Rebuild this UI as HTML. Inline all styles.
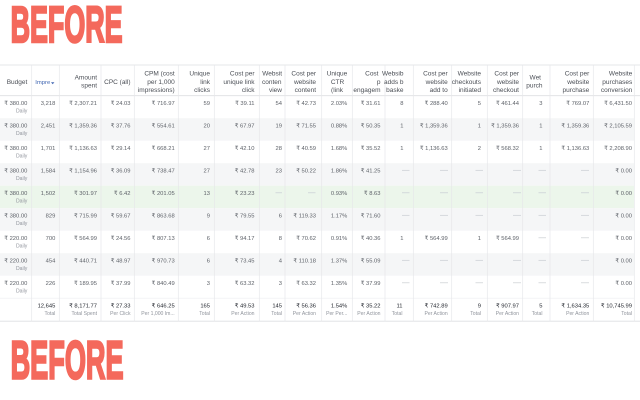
<!DOCTYPE html>
<html>
<head>
<meta charset="utf-8">
<style>
html,body{margin:0;padding:0;background:#fff;width:640px;height:400px;overflow:hidden;}
svg{display:block;}
svg text{font-family:"Liberation Sans","DejaVu Sans",sans-serif;}
.h{font-size:6.5px;fill:#4b4f56;text-anchor:end;}
.hc{font-size:6.5px;fill:#4b4f56;text-anchor:middle;}
.d{font-size:5.8px;fill:#5d6168;text-anchor:end;}
.s{font-size:5.1px;fill:#90949c;text-anchor:end;}
.f{font-size:5.8px;fill:#1d2129;text-anchor:end;}
.big{font-weight:bold;fill:#f4695c;stroke:#f4695c;stroke-width:2.5;stroke-linejoin:miter;}
.dash{stroke:#c9cdd2;stroke-width:0.7;}
</style>
</head>
<body>
<svg width="640" height="400" viewBox="0 0 640 400" xmlns="http://www.w3.org/2000/svg">
<rect x="0" y="0" width="640" height="400" fill="#fff"/>

<!-- BEFORE headings -->
<text class="big" x="10.6" y="42" font-size="51" textLength="112" lengthAdjust="spacingAndGlyphs">BEFORE</text>
<text class="big" x="10.6" y="378.7" font-size="53.5" textLength="113" lengthAdjust="spacingAndGlyphs">BEFORE</text>

<!-- row backgrounds -->
<rect x="0" y="118.2" width="634.3" height="22.5" fill="#f5f6f7"/>
<rect x="0" y="163.2" width="634.3" height="22.5" fill="#f5f6f7"/>
<rect x="0" y="185.7" width="634.3" height="22.5" fill="#ecf6eb"/>
<rect x="0" y="208.2" width="634.3" height="22.5" fill="#f5f6f7"/>
<rect x="0" y="253.2" width="634.3" height="22.5" fill="#f5f6f7"/>

<!-- horizontal lines -->
<line x1="0" y1="65" x2="640" y2="65" stroke="#dddfe2" stroke-width="0.8"/>
<line x1="0" y1="95.7" x2="640" y2="95.7" stroke="#dddfe2" stroke-width="0.8"/>
<line x1="0" y1="298.2" x2="634.3" y2="298.2" stroke="#eceef0" stroke-width="0.6"/>
<line x1="0" y1="321.2" x2="640" y2="321.2" stroke="#dddfe2" stroke-width="0.8"/>

<!-- vertical lines -->
<g stroke="#e6e7ea" stroke-width="0.7">
<line x1="31.7" y1="65" x2="31.7" y2="321.2"/>
<line x1="59.3" y1="65" x2="59.3" y2="321.2"/>
<line x1="101" y1="65" x2="101" y2="321.2"/>
<line x1="134.3" y1="65" x2="134.3" y2="321.2"/>
<line x1="178.3" y1="65" x2="178.3" y2="321.2"/>
<line x1="214.3" y1="65" x2="214.3" y2="321.2"/>
<line x1="259.3" y1="65" x2="259.3" y2="321.2"/>
<line x1="285" y1="65" x2="285" y2="321.2"/>
<line x1="321.7" y1="65" x2="321.7" y2="321.2"/>
<line x1="352.3" y1="65" x2="352.3" y2="321.2"/>
<line x1="385" y1="65" x2="385" y2="321.2"/>
<line x1="413.3" y1="65" x2="413.3" y2="321.2"/>
<line x1="451.7" y1="65" x2="451.7" y2="321.2"/>
<line x1="487.3" y1="65" x2="487.3" y2="321.2"/>
<line x1="522.7" y1="65" x2="522.7" y2="321.2"/>
<line x1="550" y1="65" x2="550" y2="321.2"/>
<line x1="593.3" y1="65" x2="593.3" y2="321.2"/>
<line x1="634.3" y1="65" x2="634.3" y2="321.2"/>
</g>

<!-- header -->
<text class="h" x="27.3" y="84">Budget</text>
<text x="35.2" y="84" font-size="5.9" fill="#4267b2">Impre</text>
<polygon points="51,82.3 54.4,82.3 52.7,84.3" fill="#4267b2"/>
<text class="h" x="97" y="79.5">Amount</text><text class="h" x="97" y="87.5">spent</text>
<text class="h" x="130.5" y="84">CPC (all)</text>
<text class="h" x="174.7" y="75.6">CPM (cost</text><text class="h" x="174.7" y="83.8">per 1,000</text><text class="h" x="174.7" y="92">impressions)</text>
<text class="h" x="210" y="75.6">Unique</text><text class="h" x="210" y="83.8">link</text><text class="h" x="210" y="92">clicks</text>
<text class="h" x="254.5" y="75.6">Cost per</text><text class="h" x="254.5" y="83.8">unique link</text><text class="h" x="254.5" y="92">click</text>
<text class="h" x="282" y="75.6">Websit</text><text class="h" x="281.5" y="83.8">conten</text><text class="h" x="282" y="92">view</text>
<text class="h" x="316" y="75.6">Cost per</text><text class="h" x="316" y="83.8">website</text><text class="h" x="316" y="92">content</text>
<text class="hc" x="337" y="75.6">Unique</text><text class="hc" x="337.5" y="83.8">CTR</text><text class="hc" x="337" y="92">(link</text>
<text class="h" x="378.5" y="75.6">Cost</text><text class="h" x="380.5" y="83.8">p</text><text class="h" x="380.5" y="92">engagem</text>
<text class="h" x="403.5" y="75.6">Websib</text><text class="h" x="403.5" y="83.8">adds b</text><text class="h" x="403.5" y="92">baske</text>
<text class="h" x="447.7" y="75.6">Cost per</text><text class="h" x="447.7" y="83.8">website</text><text class="h" x="447.7" y="92">add to</text>
<text class="h" x="481" y="75.6">Website</text><text class="h" x="481" y="83.8">checkouts</text><text class="h" x="481" y="92">initiated</text>
<text class="h" x="519" y="75.6">Cost per</text><text class="h" x="519" y="83.8">website</text><text class="h" x="519" y="92">checkout</text>
<text class="h" x="541" y="79.5">Wet</text><text class="h" x="542.5" y="87.5">purch</text>
<text class="h" x="589.3" y="75.6">Cost per</text><text class="h" x="589.3" y="83.8">website</text><text class="h" x="589.3" y="92">purchase</text>
<text class="h" x="632.3" y="75.6">Website</text><text class="h" x="632.3" y="83.8">purchases</text><text class="h" x="632.3" y="92">conversion</text>

<!-- Row 1 -->
<g transform="translate(0,104.9)">
<text class="d" x="27.3">₹ 380.00</text><text class="s" x="27.3" y="7.4">Daily</text>
<text class="d" x="55.3">3,218</text>
<text class="d" x="97">₹ 2,307.21</text>
<text class="d" x="130.5">₹ 24.03</text>
<text class="d" x="174.7">₹ 716.97</text>
<text class="d" x="210">59</text>
<text class="d" x="254.5">₹ 39.11</text>
<text class="d" x="282">54</text>
<text class="d" x="316">₹ 42.73</text>
<text class="d" x="347.3">2.03%</text>
<text class="d" x="380.5">₹ 31.61</text>
<text class="d" x="403.5">8</text>
<text class="d" x="447.7">₹ 288.40</text>
<text class="d" x="481">5</text>
<text class="d" x="519">₹ 461.44</text>
<text class="d" x="542.5">3</text>
<text class="d" x="589.3">₹ 769.07</text>
<text class="d" x="632">₹ 6,431.50</text>
</g>

<!-- Row 2 -->
<g transform="translate(0,127.4)">
<text class="d" x="27.3">₹ 380.00</text><text class="s" x="27.3" y="7.4">Daily</text>
<text class="d" x="55.3">2,451</text>
<text class="d" x="97">₹ 1,359.36</text>
<text class="d" x="130.5">₹ 37.76</text>
<text class="d" x="174.7">₹ 554.61</text>
<text class="d" x="210">20</text>
<text class="d" x="254.5">₹ 67.97</text>
<text class="d" x="282">19</text>
<text class="d" x="316">₹ 71.55</text>
<text class="d" x="347.3">0.88%</text>
<text class="d" x="380.5">₹ 50.35</text>
<text class="d" x="403.5">1</text>
<text class="d" x="447.7">₹ 1,359.36</text>
<text class="d" x="481">1</text>
<text class="d" x="519">₹ 1,359.36</text>
<text class="d" x="542.5">1</text>
<text class="d" x="589.3">₹ 1,359.36</text>
<text class="d" x="632">₹ 2,105.59</text>
</g>

<!-- Row 3 -->
<g transform="translate(0,149.9)">
<text class="d" x="27.3">₹ 380.00</text><text class="s" x="27.3" y="7.4">Daily</text>
<text class="d" x="55.3">1,701</text>
<text class="d" x="97">₹ 1,136.63</text>
<text class="d" x="130.5">₹ 29.14</text>
<text class="d" x="174.7">₹ 668.21</text>
<text class="d" x="210">27</text>
<text class="d" x="254.5">₹ 42.10</text>
<text class="d" x="282">28</text>
<text class="d" x="316">₹ 40.59</text>
<text class="d" x="347.3">1.68%</text>
<text class="d" x="380.5">₹ 35.52</text>
<text class="d" x="403.5">1</text>
<text class="d" x="447.7">₹ 1,136.63</text>
<text class="d" x="481">2</text>
<text class="d" x="519">₹ 568.32</text>
<text class="d" x="542.5">1</text>
<text class="d" x="589.3">₹ 1,136.63</text>
<text class="d" x="632">₹ 2,208.90</text>
</g>

<!-- Row 4 -->
<g transform="translate(0,172.4)">
<text class="d" x="27.3">₹ 380.00</text><text class="s" x="27.3" y="7.4">Daily</text>
<text class="d" x="55.3">1,584</text>
<text class="d" x="97">₹ 1,154.96</text>
<text class="d" x="130.5">₹ 36.09</text>
<text class="d" x="174.7">₹ 738.47</text>
<text class="d" x="210">27</text>
<text class="d" x="254.5">₹ 42.78</text>
<text class="d" x="282">23</text>
<text class="d" x="316">₹ 50.22</text>
<text class="d" x="347.3">1.86%</text>
<text class="d" x="380.5">₹ 41.25</text>
<line class="dash" x1="402" y1="-2.1" x2="409.5" y2="-2.1"/>
<line class="dash" x1="440" y1="-2.1" x2="448" y2="-2.1"/>
<line class="dash" x1="475.5" y1="-2.1" x2="483" y2="-2.1"/>
<line class="dash" x1="513" y1="-2.1" x2="521" y2="-2.1"/>
<line class="dash" x1="538.5" y1="-2.1" x2="546" y2="-2.1"/>
<line class="dash" x1="581" y1="-2.1" x2="589" y2="-2.1"/>
<text class="d" x="632">₹ 0.00</text>
</g>

<!-- Row 5 -->
<g transform="translate(0,194.9)">
<text class="d" x="27.3">₹ 380.00</text><text class="s" x="27.3" y="7.4">Daily</text>
<text class="d" x="55.3">1,502</text>
<text class="d" x="97">₹ 301.97</text>
<text class="d" x="130.5">₹ 6.42</text>
<text class="d" x="174.7">₹ 201.05</text>
<text class="d" x="210">13</text>
<text class="d" x="254.5">₹ 23.23</text>
<line class="dash" x1="275.5" y1="-2.1" x2="282" y2="-2.1"/>
<line class="dash" x1="308" y1="-2.1" x2="315.5" y2="-2.1"/>
<text class="d" x="347.3">0.93%</text>
<text class="d" x="380.5">₹ 8.63</text>
<line class="dash" x1="402" y1="-2.1" x2="409.5" y2="-2.1"/>
<line class="dash" x1="440" y1="-2.1" x2="448" y2="-2.1"/>
<line class="dash" x1="475.5" y1="-2.1" x2="483" y2="-2.1"/>
<line class="dash" x1="513" y1="-2.1" x2="521" y2="-2.1"/>
<line class="dash" x1="538.5" y1="-2.1" x2="546" y2="-2.1"/>
<line class="dash" x1="581" y1="-2.1" x2="589" y2="-2.1"/>
<text class="d" x="632">₹ 0.00</text>
</g>

<!-- Row 6 -->
<g transform="translate(0,217.4)">
<text class="d" x="27.3">₹ 380.00</text><text class="s" x="27.3" y="7.4">Daily</text>
<text class="d" x="55.3">829</text>
<text class="d" x="97">₹ 715.99</text>
<text class="d" x="130.5">₹ 59.67</text>
<text class="d" x="174.7">₹ 863.68</text>
<text class="d" x="210">9</text>
<text class="d" x="254.5">₹ 79.55</text>
<text class="d" x="282">6</text>
<text class="d" x="316">₹ 119.33</text>
<text class="d" x="347.3">1.17%</text>
<text class="d" x="380.5">₹ 71.60</text>
<line class="dash" x1="402" y1="-2.1" x2="409.5" y2="-2.1"/>
<line class="dash" x1="440" y1="-2.1" x2="448" y2="-2.1"/>
<line class="dash" x1="475.5" y1="-2.1" x2="483" y2="-2.1"/>
<line class="dash" x1="513" y1="-2.1" x2="521" y2="-2.1"/>
<line class="dash" x1="538.5" y1="-2.1" x2="546" y2="-2.1"/>
<line class="dash" x1="581" y1="-2.1" x2="589" y2="-2.1"/>
<text class="d" x="632">₹ 0.00</text>
</g>

<!-- Row 7 -->
<g transform="translate(0,239.9)">
<text class="d" x="27.3">₹ 220.00</text><text class="s" x="27.3" y="7.4">Daily</text>
<text class="d" x="55.3">700</text>
<text class="d" x="97">₹ 564.99</text>
<text class="d" x="130.5">₹ 24.56</text>
<text class="d" x="174.7">₹ 807.13</text>
<text class="d" x="210">6</text>
<text class="d" x="254.5">₹ 94.17</text>
<text class="d" x="282">8</text>
<text class="d" x="316">₹ 70.62</text>
<text class="d" x="347.3">0.91%</text>
<text class="d" x="380.5">₹ 40.36</text>
<text class="d" x="403.5">1</text>
<text class="d" x="447.7">₹ 564.99</text>
<text class="d" x="481">1</text>
<text class="d" x="519">₹ 564.99</text>
<line class="dash" x1="538.5" y1="-2.1" x2="546" y2="-2.1"/>
<line class="dash" x1="581" y1="-2.1" x2="589" y2="-2.1"/>
<text class="d" x="632">₹ 0.00</text>
</g>

<!-- Row 8 -->
<g transform="translate(0,262.4)">
<text class="d" x="27.3">₹ 220.00</text><text class="s" x="27.3" y="7.4">Daily</text>
<text class="d" x="55.3">454</text>
<text class="d" x="97">₹ 440.71</text>
<text class="d" x="130.5">₹ 48.97</text>
<text class="d" x="174.7">₹ 970.73</text>
<text class="d" x="210">6</text>
<text class="d" x="254.5">₹ 73.45</text>
<text class="d" x="282">4</text>
<text class="d" x="316">₹ 110.18</text>
<text class="d" x="347.3">1.37%</text>
<text class="d" x="380.5">₹ 55.09</text>
<line class="dash" x1="402" y1="-2.1" x2="409.5" y2="-2.1"/>
<line class="dash" x1="440" y1="-2.1" x2="448" y2="-2.1"/>
<line class="dash" x1="475.5" y1="-2.1" x2="483" y2="-2.1"/>
<line class="dash" x1="513" y1="-2.1" x2="521" y2="-2.1"/>
<line class="dash" x1="538.5" y1="-2.1" x2="546" y2="-2.1"/>
<line class="dash" x1="581" y1="-2.1" x2="589" y2="-2.1"/>
<text class="d" x="632">₹ 0.00</text>
</g>

<!-- Row 9 -->
<g transform="translate(0,284.9)">
<text class="d" x="27.3">₹ 220.00</text><text class="s" x="27.3" y="7.4">Daily</text>
<text class="d" x="55.3">226</text>
<text class="d" x="97">₹ 189.95</text>
<text class="d" x="130.5">₹ 37.99</text>
<text class="d" x="174.7">₹ 840.49</text>
<text class="d" x="210">3</text>
<text class="d" x="254.5">₹ 63.32</text>
<text class="d" x="282">3</text>
<text class="d" x="316">₹ 63.32</text>
<text class="d" x="347.3">1.35%</text>
<text class="d" x="380.5">₹ 37.99</text>
<line class="dash" x1="402" y1="-2.1" x2="409.5" y2="-2.1"/>
<line class="dash" x1="440" y1="-2.1" x2="448" y2="-2.1"/>
<line class="dash" x1="475.5" y1="-2.1" x2="483" y2="-2.1"/>
<line class="dash" x1="513" y1="-2.1" x2="521" y2="-2.1"/>
<line class="dash" x1="538.5" y1="-2.1" x2="546" y2="-2.1"/>
<line class="dash" x1="581" y1="-2.1" x2="589" y2="-2.1"/>
<text class="d" x="632">₹ 0.00</text>
</g>

<!-- Footer -->
<g transform="translate(0,307.3)">
<text class="f" x="55.3">12,645</text><text class="s" x="55.3" y="7.6">Total</text>
<text class="f" x="97">₹ 8,171.77</text><text class="s" x="97" y="7.6">Total Spent</text>
<text class="f" x="130.5">₹ 27.33</text><text class="s" x="130.5" y="7.6">Per Click</text>
<text class="f" x="174.7">₹ 646.25</text><text class="s" x="174.7" y="7.6">Per 1,000 Im...</text>
<text class="f" x="210">165</text><text class="s" x="210" y="7.6">Total</text>
<text class="f" x="254.5">₹ 49.53</text><text class="s" x="254.5" y="7.6">Per Action</text>
<text class="f" x="282">145</text><text class="s" x="282" y="7.6">Total</text>
<text class="f" x="316">₹ 56.36</text><text class="s" x="316" y="7.6">Per Action</text>
<text class="f" x="347.3">1.54%</text><text class="s" x="347.3" y="7.6">Per Per...</text>
<text class="f" x="380.5">₹ 35.22</text><text class="s" x="380.5" y="7.6">Per Action</text>
<text class="f" x="402.5">11</text><text class="s" x="402.5" y="7.6">Total</text>
<text class="f" x="447.7">₹ 742.89</text><text class="s" x="447.7" y="7.6">Per Action</text>
<text class="f" x="481">9</text><text class="s" x="481" y="7.6">Total</text>
<text class="f" x="519">₹ 907.97</text><text class="s" x="519" y="7.6">Per Action</text>
<text class="f" x="542.5">5</text><text class="s" x="542.5" y="7.6">Total</text>
<text class="f" x="589.3">₹ 1,634.35</text><text class="s" x="589.3" y="7.6">Per Action</text>
<text class="f" x="632">₹ 10,745.99</text><text class="s" x="632" y="7.6">Total</text>
</g>
</svg>
</body>
</html>
